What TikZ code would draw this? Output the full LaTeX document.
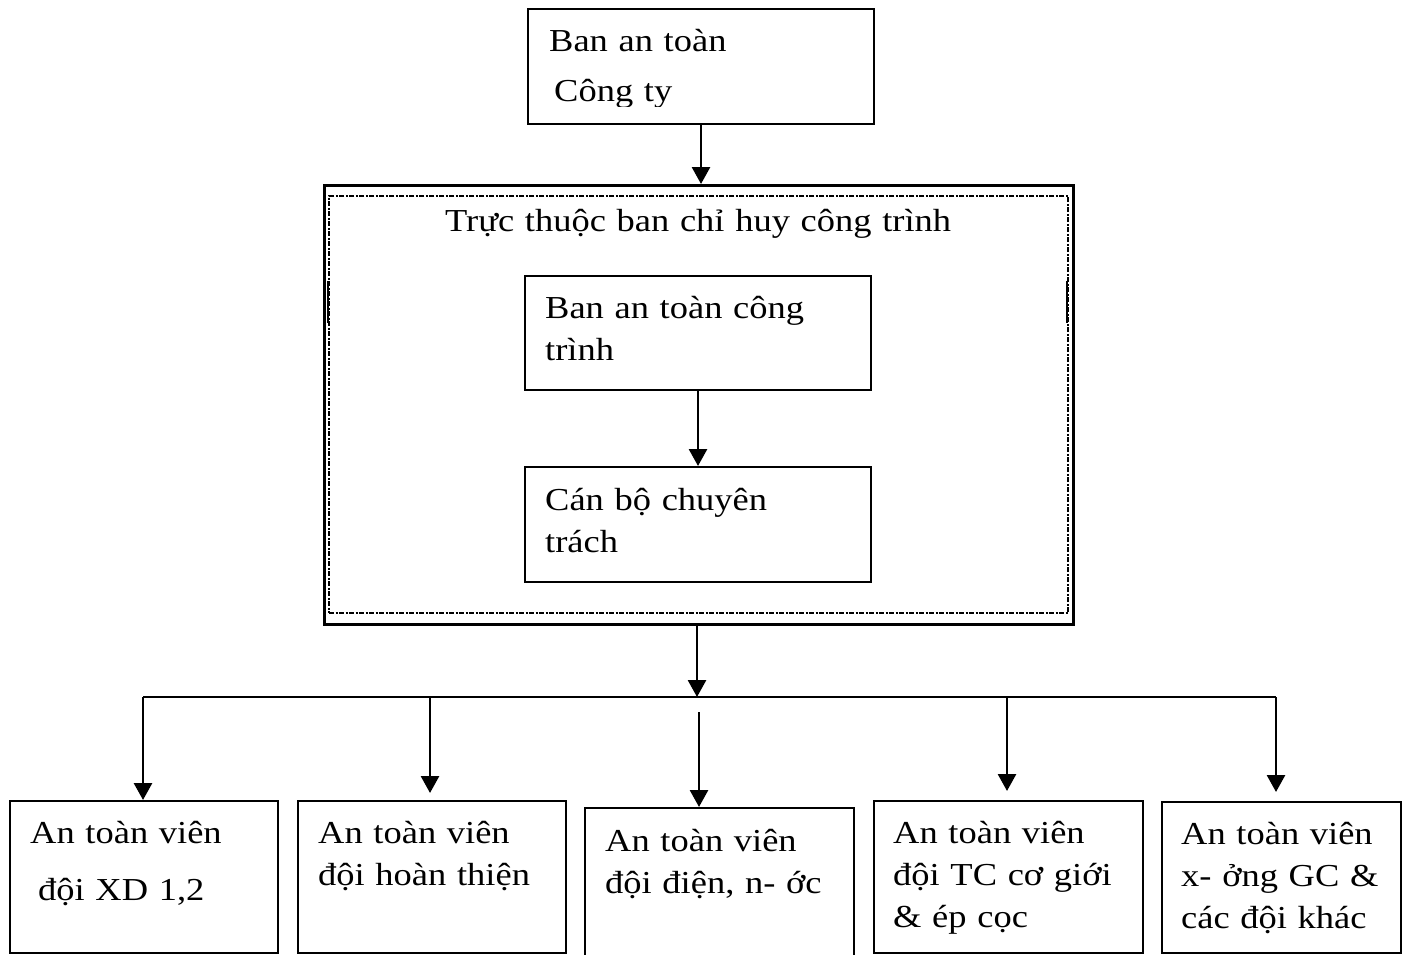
\documentclass[tikz,border=0pt]{standalone}
\usepackage{fontspec}
\setmainfont{Liberation Serif}[FakeStretch=1.14]
\usetikzlibrary{arrows.meta}
\begin{document}
\begin{tikzpicture}[x=1pt,y=-1pt,
  box/.style={draw, line width=2pt, rectangle, anchor=north west, inner sep=0pt},
  lbl/.style={anchor=base west, inner sep=0pt, text width=340pt, align=left,
    font=\fontsize{32}{42}\selectfont},
  arr/.style={line width=2.8pt, -{Triangle[width=18pt,length=17pt]}},
  link/.style={line width=2.4pt}]
\clip (0,0) rectangle (1416,955);

% top box
\node[box, minimum width=346pt, minimum height=115pt] (top) at (527,8) {};
\begin{scope}
  \clip (527,8) rectangle (873,107);
  \node[lbl, font=\fontsize{32}{50}\selectfont] (toptxt) at (549,52) {Ban an toàn\\\hspace*{5pt}Công ty};
\end{scope}

% site command frame: solid outer border, dash-dot inner border
\node[box, line width=2.6pt, minimum width=749pt, minimum height=439pt] (outer) at (323,184) {};
\node[draw, line width=2.3pt, dash pattern=on 5pt off 1.5pt on 2pt off 1.5pt,
  anchor=north west, inner sep=0pt, minimum width=739pt, minimum height=417pt] (inner) at (328,195) {};
\draw[line width=2.3pt] (328,281) -- (328,323);
\draw[line width=2.3pt] (1067,281) -- (1067,323);
\node[lbl, text width=620pt] (title) at (445,231) {Trực thuộc ban chỉ huy công trình};

% inner boxes
\node[box, minimum width=346pt, minimum height=114pt] (ib1) at (524,275) {};
\node[lbl] (ib1txt) at (545,318) {Ban an toàn công\\trình};
\node[box, minimum width=346pt, minimum height=115pt] (ib2) at (524,466) {};
\node[lbl] (ib2txt) at (545,510) {Cán bộ chuyên\\trách};

% bottom boxes
\node[box, minimum width=268pt, minimum height=152pt] (b1) at (9,800) {};
\node[lbl, font=\fontsize{32}{57}\selectfont] (b1txt) at (30,843) {An toàn viên\\\hspace*{8pt}đội XD 1,2};
\node[box, minimum width=268pt, minimum height=152pt] (b2) at (297,800) {};
\node[lbl] (b2txt) at (318,843) {An toàn viên\\đội hoàn thiện};
\node[box, minimum width=269pt, minimum height=200pt] (b3) at (584,807) {};
\node[lbl] (b3txt) at (605,851) {An toàn viên\\đội điện, n- ớc};
\node[box, minimum width=269pt, minimum height=152pt] (b4) at (873,800) {};
\node[lbl] (b4txt) at (893,843) {An toàn viên\\đội TC cơ giới\\\& ép cọc};
\node[box, minimum width=239pt, minimum height=151pt] (b5) at (1161,801) {};
\node[lbl] (b5txt) at (1181,844) {An toàn viên\\x- ởng GC \&\\các đội khác};

% connectors
\draw[arr] (top.south) -- (top.south |- outer.north);
\draw[arr] (ib1.south) -- (ib2.north);

\coordinate (hub) at (697,697);
\coordinate (d1) at (143,697);
\coordinate (d2) at (430,697);
\coordinate (d3) at (699,712);
\coordinate (d4) at (1007,697);
\coordinate (d5) at (1276,697);

\draw[arr] (hub |- outer.south) -- (hub);
\draw[link] (d1) -- (d5);
\draw[arr] (d1) -- (d1 |- b1.north);
\draw[arr, shorten >=7pt] (d2) -- (d2 |- b2.north);
\draw[arr] (d3) -- (d3 |- b3.north);
\draw[arr, shorten >=9pt] (d4) -- (d4 |- b4.north);
\draw[arr, shorten >=9pt] (d5) -- (d5 |- b5.north);
\end{tikzpicture}
\end{document}
